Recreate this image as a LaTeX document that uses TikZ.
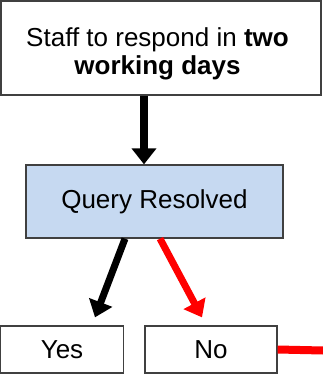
\documentclass[tikz,border=0pt]{standalone}
\usepackage{fontspec}
\setmainfont{Liberation Sans}
\usetikzlibrary{arrows.meta}
\definecolor{queryblue}{HTML}{C6D9F1}
\definecolor{boxgray}{HTML}{404040}
\begin{document}
\begin{tikzpicture}[
	x=1bp, y=-1bp,
	box/.style={
		draw=boxgray, line width=1.3bp, inner sep=0pt,
		font=\fontsize{26bp}{28bp}\selectfont
	},
	flow/.style={
		line width=7bp,
		-{Triangle[length=16bp, width=24bp]}
	}
]
	\useasboundingbox (0, 0) rectangle (323, 376);
	% Boxes
	\node[box, minimum width=320bp, minimum height=94bp] (respond) at (161, 48) {};
	\node[box, draw=none, align=center] (respondtext) at ([xshift=-3.5bp, yshift=-6bp]respond.center)
		{Staff to respond in \textbf{two}\\\textbf{working days}};
	\node[box, fill=queryblue, minimum width=257bp, minimum height=73bp]
		(query) at (154.5, 201.5) {Query Resolved};
	\node[box, minimum width=123bp, minimum height=47bp] (yes) at (62, 349.5) {Yes};
	\node[box, minimum width=132bp, minimum height=47bp] (no) at (211, 349.5) {No};
	\coordinate (exit) at (323, 350.5);
	% Arrows
	\draw[flow] ([xshift=-17bp]respond.south) -- ([xshift=-17bp]respond.south |- query.north);
	\draw[flow] ([xshift=-29.5bp]query.south) -- ([xshift=33bp, yshift=8bp]yes.north);
	\draw[flow, red] ([xshift=5.5bp]query.south) -- ([xshift=-9bp, yshift=8bp]no.north);
	\draw[red, line width=8bp] (no.east) -- (exit);
\end{tikzpicture}
\end{document}
